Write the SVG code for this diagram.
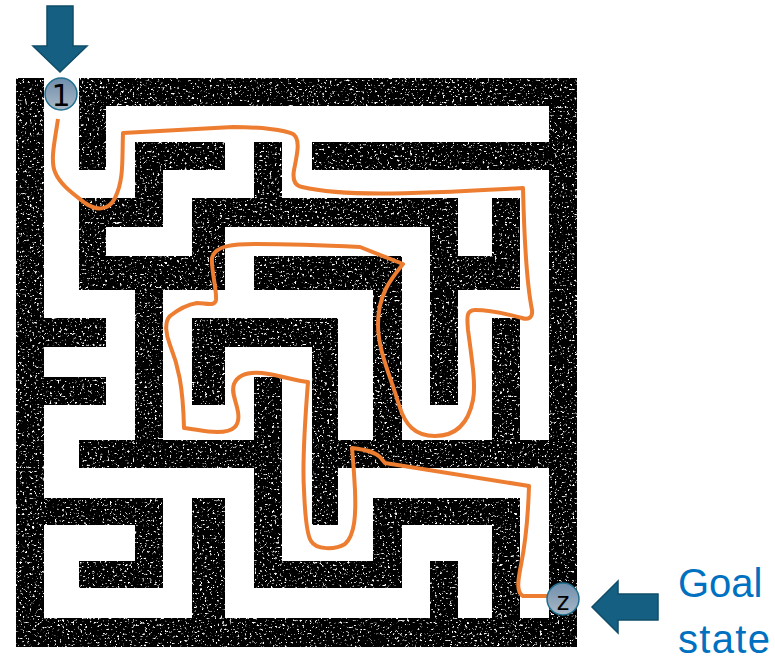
<svg xmlns="http://www.w3.org/2000/svg" width="775" height="661" viewBox="0 0 775 661">
  <defs>
    <filter id="speckle" x="0" y="0" width="100%" height="100%" color-interpolation-filters="sRGB">
      <feTurbulence type="fractalNoise" baseFrequency="0.4 0.45" numOctaves="3" seed="7" result="n"/>
      <feColorMatrix in="n" type="matrix" values="0 0 0 0 1  0 0 0 0 1  0 0 0 0 1  0 0 0 7 -4.3"/>
    </filter>
    <filter id="rough" x="-2%" y="-2%" width="104%" height="104%">
      <feTurbulence type="fractalNoise" baseFrequency="0.3" numOctaves="1" seed="3" result="t"/>
      <feDisplacementMap in="SourceGraphic" in2="t" scale="1.2" xChannelSelector="R" yChannelSelector="G"/>
    </filter>
    <linearGradient id="disc" x1="0" y1="0" x2="0" y2="1">
      <stop offset="0" stop-color="#6f8dab"/>
      <stop offset="1" stop-color="#a9b9c7"/>
    </linearGradient>
    <style>
      .cor { fill: #fff; }
      .arrow { fill: #156082; stroke: #0f4c68; stroke-width: 1.5; }
      .disc { fill: url(#disc); stroke: #1f6f8f; stroke-width: 1.5; }
      .lab { font-family: "DejaVu Sans", sans-serif; fill: #000; text-anchor: middle; }
      .goal { font-family: "Liberation Sans", Arial, sans-serif; font-size: 40px; fill: #0070c0; }
    </style>
  </defs>
  <rect width="775" height="661" fill="#fff"/>
  <g id="maze" filter="url(#rough)">
    <rect x="16" y="78" width="561" height="569" fill="#000"/>
    <rect x="16" y="78" width="561" height="569" filter="url(#speckle)"/>
    <g class="cor">
      <rect x="44" y="78" width="35" height="240"/>
      <rect x="44" y="170" width="91" height="28"/>
      <rect x="106" y="106" width="29" height="92"/>
      <rect x="106" y="106" width="443" height="36"/>
      <rect x="225" y="106" width="29" height="92"/>
      <rect x="163" y="170" width="91" height="28"/>
      <rect x="163" y="170" width="29" height="86"/>
      <rect x="106" y="227" width="86" height="29"/>
      <rect x="282" y="106" width="30" height="92"/>
      <rect x="282" y="170" width="267" height="28"/>
      <rect x="458" y="198" width="34" height="58"/>
      <rect x="520" y="170" width="29" height="270"/>
      <rect x="458" y="290" width="91" height="28"/>
      <rect x="458" y="290" width="34" height="150"/>
      <rect x="402" y="405" width="90" height="35"/>
      <rect x="402" y="227" width="28" height="213"/>
      <rect x="225" y="227" width="205" height="29"/>
      <rect x="225" y="227" width="29" height="91"/>
      <rect x="163" y="290" width="210" height="28"/>
      <rect x="163" y="290" width="29" height="150"/>
      <rect x="163" y="405" width="91" height="35"/>
      <rect x="225" y="347" width="29" height="93"/>
      <rect x="225" y="347" width="87" height="30"/>
      <rect x="282" y="347" width="30" height="214"/>
      <rect x="282" y="525" width="91" height="36"/>
      <rect x="338" y="290" width="35" height="150"/>
      <rect x="338" y="468" width="35" height="93"/>
      <rect x="338" y="468" width="211" height="30"/>
      <rect x="520" y="468" width="29" height="150"/>
      <rect x="402" y="525" width="90" height="36"/>
      <rect x="402" y="525" width="28" height="93"/>
      <rect x="458" y="525" width="34" height="93"/>
      <rect x="225" y="588" width="205" height="30"/>
      <rect x="225" y="468" width="29" height="150"/>
      <rect x="44" y="468" width="210" height="30"/>
      <rect x="163" y="468" width="29" height="150"/>
      <rect x="44" y="588" width="148" height="30"/>
      <rect x="44" y="525" width="35" height="93"/>
      <rect x="44" y="525" width="91" height="36"/>
      <rect x="44" y="405" width="35" height="93"/>
      <rect x="44" y="405" width="91" height="35"/>
      <rect x="106" y="290" width="29" height="150"/>
      <rect x="44" y="290" width="91" height="28"/>
      <rect x="44" y="347" width="62" height="30"/>
    </g>
  </g>
  <g id="connectors">
    <path id="solution-path" fill="none" stroke="#ed7d31" stroke-width="4" stroke-linejoin="round" d="M58 119 C55 140 50 160 55 172 C60 185 75 195 85 203 C95 210 108 212 115 198 C124 180 122 160 123 133 L233 127 C260 127 285 130 293 134 C301 139 297 155 294 170 C292 182 296 186 302 187 C340 196 400 195 523 188 C524 230 526 280 532 310 C533 318 528 320 522 318 C500 312 485 310 475 310 C466 310 467 318 468 330 C472 360 476 385 473 400 C468 425 455 436 435 436 C415 436 405 425 399 405 C390 375 378 350 378 325 C378 295 390 280 403 264 L360 247 C320 245 290 244 255 244 C235 244 215 245 212 258 C211 270 217 290 216 300 C215 307 205 303 197 303 C185 305 175 312 170 316 C164 322 166 335 170 345 C178 365 183 385 184 428 C195 429 205 432 217 432 C235 432 240 425 238 412 C236 400 231 393 234 384 C238 374 250 372 262 373 C280 375 295 381 308 382 C305 420 302 460 304 490 C305 515 307 535 311 541 C316 550 335 550 345 544 C355 535 356 515 355 490 C354 470 353 460 352 448 C360 449 372 450 380 457 L385 463 L529 486 C528 520 526 540 521 565 C518 580 516 592 523 596 L550 596"/>
  </g>
  <g id="start-arrow"><polygon class="arrow" points="47,6 73,6 73,46 87,46 60,72 33,46 47,46"/></g>
  <g id="start">
    <circle class="disc" cx="61" cy="94" r="16"/>
    <text class="lab" x="61" y="106" font-size="30">1</text>
  </g>
  <g id="goal-arrow"><polygon class="arrow" points="658,594 658,620 618,620 618,633 592,607 618,581 618,594"/></g>
  <g id="goal">
    <circle class="disc" cx="563" cy="599" r="16"/>
    <text class="lab" x="563" y="610" font-size="24">z</text>
  </g>
  <g id="goal-label">
    <text class="goal" x="678" y="597">Goal</text>
    <text class="goal" x="678" y="653" textLength="92">state</text>
  </g>
</svg>
